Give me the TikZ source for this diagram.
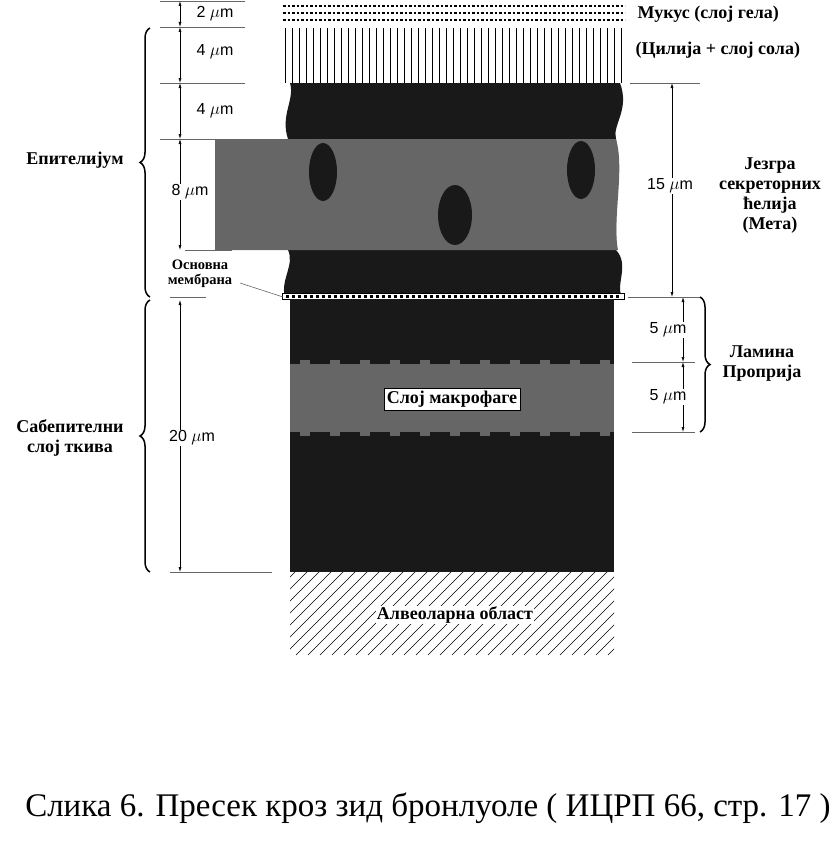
\documentclass[tikz,border=0pt]{standalone}
\usepackage{fontspec}
\setmainfont{Liberation Serif}
\newfontfamily\arialf{Liberation Sans}
\usetikzlibrary{patterns,decorations.pathreplacing,arrows.meta}
\begin{document}
\begin{tikzpicture}[x=1pt,y=-1pt,
  lab/.style={font=\bfseries\fontsize{18}{20}\selectfont,align=center},
  dim/.style={font=\arialf\fontsize{16}{18}\selectfont},
  thin/.style={draw=black!60,line width=0.6pt},
  darr/.style={{Latex[length=5pt,width=3pt]}-{Latex[length=5pt,width=3pt]},line width=0.6pt},
  brace/.style={decorate,decoration={brace,amplitude=10pt},line width=1.5pt}]
\useasboundingbox (0,0) rectangle (836,843);
% mucus
\foreach \yy in {6,13,20}{\draw[dash pattern=on 2.5pt off 2pt,line width=2pt] (283,\yy) -- (625,\yy);}
% cilia
\foreach \xx in {285,292,...,625}{\draw[line width=0.5pt] (\xx,28) -- (\xx,83);}
% epithelium black
\fill[black!90] (290,83) -- (620,83) .. controls (630,110) and (612,125) .. (616,139) -- (616,250) .. controls (630,265) and (615,285) .. (622,297) -- (285,297) .. controls (280,280) and (295,265) .. (288,250) -- (288,139) .. controls (280,115) and (295,100) .. (290,83) -- cycle;
% nucleus band
\fill[black!60] (215,139) -- (616,139) .. controls (625,170) and (612,220) .. (618,250) -- (215,250) -- cycle;
\fill[black!90] (323,172) ellipse (14 and 29);
\fill[black!90] (581,170) ellipse (14 and 29);
\fill[black!90] (455,215) ellipse (17 and 30);
% membrane
\draw[line width=0.5pt,fill=white] (282,293) rectangle (624,299);
\foreach \xx in {286,292,...,620}{\fill (\xx,294.5) rectangle (\xx+3,297.5);}
% subepithelial
\fill[black!90] (290,299) rectangle (614,572);
\fill[black!60] (290,364) rectangle (614,432);
\foreach \xx in {300,330,...,600}{\fill[black!60] (\xx,360) rectangle (\xx+10,364);\fill[black!60] (\xx,432) rectangle (\xx+10,436);}
\node[draw,fill=white,lab,inner sep=3pt] (mac) at (452,399) {Слој макрофаге};
% alveolar
\begin{scope}
\clip (290,572) rectangle (614,655);
\foreach \xx in {200,212,...,620}{\draw[line width=0.5pt] (\xx,655) -- (\xx+90,565);}
\end{scope}
\node[lab,fill=white,inner sep=1pt] (alv) at (455,615) {Алвеоларна област};
% left horizontal lines
\foreach \yy in {1,27,83,139}{\draw[thin] (160,\yy) -- (245,\yy);}
\draw[thin] (185,250) -- (232,250);
\draw[thin] (170,297) -- (206,297);
\draw[thin] (170,572) -- (272,572);
% left dims
\coordinate (l0) at (180,1);\coordinate (l1) at (180,27);\coordinate (l2) at (180,83);\coordinate (l3) at (180,139);\coordinate (l4) at (180,250);\coordinate (l5) at (180,300);\coordinate (l6) at (180,572);
\draw[darr] (l0) -- (l1);\draw[darr] (l1) -- (l2);\draw[darr] (l2) -- (l3);\draw[darr] (l3) -- (l4);
\node[dim,fill=white,inner sep=1pt] at (215,14) {2 $\mu$m};
\node[dim] at (215,52) {4 $\mu$m};
\node[dim] at (215,111) {4 $\mu$m};
\node[dim,fill=white,inner sep=1pt] at (190,192) {8 $\mu$m};
\draw[darr] (l5) -- (l6);
\node[dim,fill=white,inner sep=1pt] at (192,438) {20 $\mu$m};
\node[lab,font=\bfseries\fontsize{14.5}{15}\selectfont,inner sep=0pt] (mem) at (200,274) {Основна\\мембрана};
\draw[thin] (240,283) -- (283,297);
% left braces
\draw[brace] (150,297) -- (150,28);
\node[lab] at (75,160) {Епителијум};
\draw[brace] (150,572) -- (150,300);
\node[lab] at (70,438) {Сабепителни\\слој ткива};
% right
\node[lab,anchor=west] at (634,14) {Мукус (слој гела)};
\node[lab,anchor=west] at (632,50) {(Цилија + слој сола)};
\draw[thin] (630,83) -- (700,83);
\draw[thin] (628,297) -- (700,297);
\draw[darr] (672,83) -- (672,297);
\node[dim,fill=white,inner sep=1pt] at (670,186) {15 $\mu$m};
\node[lab] at (770,196) {Језгра\\секреторних\\ћелија\\(Мета)};
\draw[thin] (632,362) -- (695,362);
\draw[thin] (632,432) -- (695,432);
\draw[darr] (683,297) -- (683,362);
\draw[darr] (683,362) -- (683,432);
\node[dim,fill=white,inner sep=1pt] at (668,330) {5 $\mu$m};
\node[dim,fill=white,inner sep=1pt] at (668,397) {5 $\mu$m};
\draw[brace] (700,297) -- (700,432);
\node[lab] at (762,364) {Ламина\\Проприја};
% caption
\node[font=\fontsize{33}{35}\selectfont] at (428,808) {Слика 6. Пресек кроз зид бронлуоле ( ИЦРП 66, стр. 17 )};
\end{tikzpicture}
\end{document}
